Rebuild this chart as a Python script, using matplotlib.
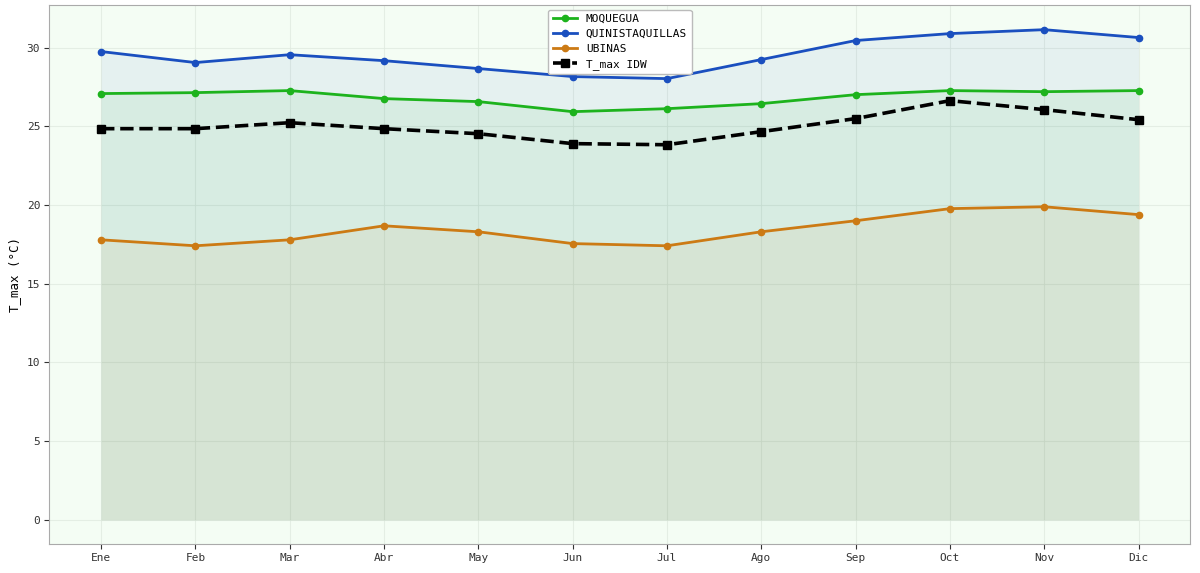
import matplotlib
matplotlib.use("Agg")
import matplotlib.pyplot as plt
import numpy as np

months = ["Ene", "Feb", "Mar", "Abr", "May", "Jun", "Jul", "Ago", "Sep", "Oct", "Nov", "Dic"]
moquegua = [27.08, 27.14, 27.27, 26.76, 26.57, 25.93, 26.12, 26.44, 27.01, 27.27, 27.20, 27.27]
quinistaquillas = [29.75, 29.05, 29.55, 29.17, 28.67, 28.16, 28.03, 29.24, 30.45, 30.89, 31.14, 30.64]
ubinas = [17.79, 17.41, 17.79, 18.68, 18.30, 17.55, 17.41, 18.30, 19.00, 19.77, 19.89, 19.39]
tmax_idw = [24.85, 24.85, 25.23, 24.85, 24.53, 23.90, 23.83, 24.66, 25.49, 26.63, 26.06, 25.42]

plt.rcParams['font.family'] = ['DejaVu Sans Mono']

fig, ax = plt.subplots(figsize=(12, 5.73), dpi=100)
fig.subplots_adjust(left=0.041, right=0.992, top=0.991, bottom=0.05)
ax.set_facecolor('#f4fdf4')

x = np.arange(len(months))
series = [("MOQUEGUA", moquegua, '#1db31d'),
          ("QUINISTAQUILLAS", quinistaquillas, '#1a4fbf'),
          ("UBINAS", ubinas, '#cc7a14')]
for name, vals, col in series:
    ax.plot(x, vals, color=col, lw=2.0, marker='o', ms=4.5, label=name, zorder=3)
    ax.fill_between(x, 0, vals, color=col, alpha=0.065, lw=0, zorder=1)

ax.plot(x, tmax_idw, color='black', lw=2.6, ls='--', marker='s', ms=5.5, label='T_max IDW', zorder=4)

ax.set_xticks(x)
ax.set_xticklabels(months, fontsize=8)
ax.tick_params(axis='y', labelsize=8)
ax.set_ylabel('T_max (°C)', fontsize=9)
ax.grid(True, color='#e0ebe0', lw=0.8, alpha=0.8)
ax.set_axisbelow(True)
for s in ax.spines.values():
    s.set_color('#aaaaaa')
ax.tick_params(colors='#333333', length=3.5, pad=3)

ax.legend(loc='upper center', fontsize=8, framealpha=1.0, edgecolor='#bbbbbb',
          borderaxespad=0.4, handlelength=2.2, labelspacing=0.45, borderpad=0.4)

fig.savefig('out.png', dpi=100)
